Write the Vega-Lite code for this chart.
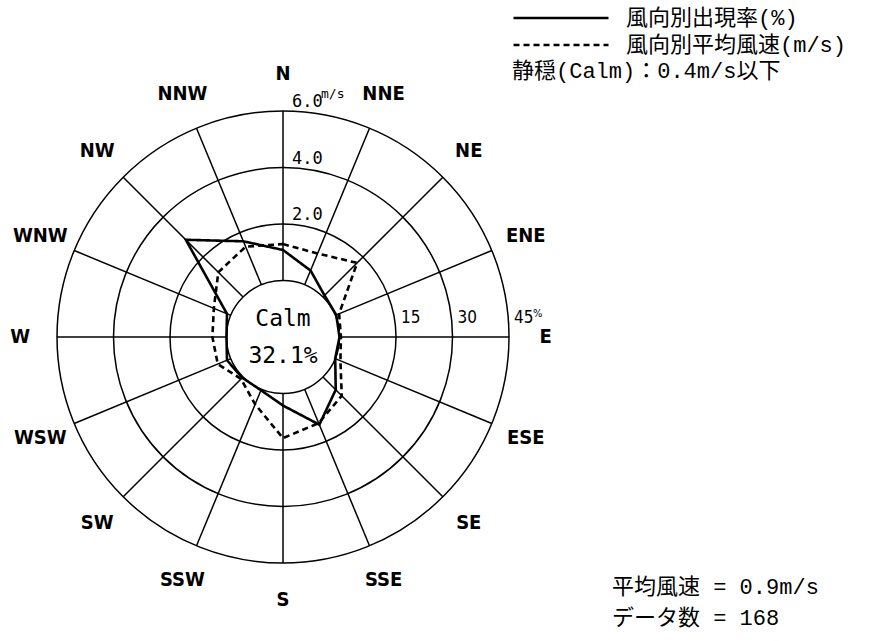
{
  "$schema": "https://vega.github.io/schema/vega-lite/v6.json",
  "width": 877,
  "height": 641,
  "autosize": {"type": "none"},
  "padding": 0,
  "background": "white",
  "config": {"view": {"stroke": null}},
  "datasets": {
    "wind": [
      {"dir": "N", "deg": 0, "pct": 8.1, "speed": 1.29},
      {"dir": "NNE", "deg": 22.5, "pct": 4.1, "speed": 1.2},
      {"dir": "NE", "deg": 45, "pct": 0.6, "speed": 1.71},
      {"dir": "ENE", "deg": 67.5, "pct": 0.3, "speed": 0.15},
      {"dir": "E", "deg": 90, "pct": 0, "speed": 0.05},
      {"dir": "ESE", "deg": 112.5, "pct": 0, "speed": 0.2},
      {"dir": "SE", "deg": 135, "pct": 4.8, "speed": 0.94},
      {"dir": "SSE", "deg": 157.5, "pct": 10.2, "speed": 1.3},
      {"dir": "S", "deg": 180, "pct": 3.2, "speed": 1.58},
      {"dir": "SSW", "deg": 202.5, "pct": 0.3, "speed": 0.58},
      {"dir": "SW", "deg": 225, "pct": 0.3, "speed": 0.1},
      {"dir": "WSW", "deg": 247.5, "pct": 1.1, "speed": 0.5},
      {"dir": "W", "deg": 270, "pct": 0, "speed": 0.5},
      {"dir": "WNW", "deg": 292.5, "pct": 1.1, "speed": 0.65},
      {"dir": "NW", "deg": 315, "pct": 21.5, "speed": 1.24},
      {"dir": "NNW", "deg": 337.5, "pct": 12.5, "speed": 1.46}
    ],
    "rings": [
      {"speed": 0, "pct": 0, "speedLabel": "", "pctLabel": ""},
      {"speed": 2, "pct": 15, "speedLabel": "2.0", "pctLabel": "15"},
      {"speed": 4, "pct": 30, "speedLabel": "4.0", "pctLabel": "30"},
      {"speed": 6, "pct": 45, "speedLabel": "6.0", "pctLabel": "45"}
    ],
    "summary": [
      {"calm": "32.1%", "meanSpeed": "0.9m/s", "count": 168}
    ]
  },
  "layer": [
    {
      "data": {"name": "rings"},
      "transform": [{"calculate": "1 + datum.speed / 2", "as": "r"}],
      "mark": {"type": "arc", "filled": false, "stroke": "black", "strokeWidth": 1.5, "theta": 0, "theta2": 6.2832},
      "encoding": {
        "x": {"datum": 0, "type": "quantitative", "scale": {"domain": [-5.009, 10.513], "nice": false, "zero": false}, "axis": null},
        "y": {"datum": 0, "type": "quantitative", "scale": {"domain": [-5.381, 5.965], "nice": false, "zero": false}, "axis": null},
        "radius": {"field": "r", "type": "quantitative", "stack": null, "scale": {"type": "linear", "domain": [0, 4], "range": [0, 226], "zero": true, "nice": false}, "legend": null}
      }
    },
    {
      "data": {"name": "wind"},
      "transform": [
        {"calculate": "sin(datum.deg * PI / 180)", "as": "sx"},
        {"calculate": "cos(datum.deg * PI / 180)", "as": "sy"},
        {"calculate": "datum.sx", "as": "x1"},
        {"calculate": "datum.sy", "as": "y1"},
        {"calculate": "4 * datum.sx", "as": "x2"},
        {"calculate": "4 * datum.sy", "as": "y2"}
      ],
      "mark": {"type": "rule", "stroke": "black", "strokeWidth": 1.5},
      "encoding": {
        "x": {"field": "x1", "type": "quantitative"},
        "y": {"field": "y1", "type": "quantitative"},
        "x2": {"field": "x2"},
        "y2": {"field": "y2"}
      }
    },
    {
      "data": {"name": "wind"},
      "transform": [
        {"calculate": "4.65 * sin(datum.deg * PI / 180)", "as": "lx"},
        {"calculate": "4.65 * cos(datum.deg * PI / 180)", "as": "ly"}
      ],
      "mark": {"type": "text", "font": "DejaVu Sans Condensed", "fontSize": 20, "fontWeight": "bold", "align": "center", "baseline": "middle", "color": "black"},
      "encoding": {
        "x": {"field": "lx", "type": "quantitative"},
        "y": {"field": "ly", "type": "quantitative"},
        "text": {"field": "dir"}
      }
    },
    {
      "data": {"name": "wind"},
      "transform": [
        {"calculate": "1 + datum.pct / 15", "as": "r"},
        {"calculate": "datum.r * sin(datum.deg * PI / 180)", "as": "px"},
        {"calculate": "datum.r * cos(datum.deg * PI / 180)", "as": "py"}
      ],
      "mark": {"type": "line", "interpolate": "linear-closed", "color": "black", "strokeWidth": 2.6},
      "encoding": {
        "x": {"field": "px", "type": "quantitative"},
        "y": {"field": "py", "type": "quantitative"},
        "order": {"field": "deg", "type": "quantitative"},
        "strokeDash": {
          "datum": "風向別出現率(%)",
          "type": "nominal",
          "scale": {"domain": ["風向別出現率(%)", "風向別平均風速(m/s)"], "range": [[1, 0], [6, 4]]},
          "legend": {
            "orient": "none",
            "legendX": 512,
            "legendY": 7,
            "padding": 0,
            "title": "静穏(Calm)：0.4m/s以下",
            "titleOrient": "bottom",
            "titleAnchor": "start",
            "titleFont": "Liberation Mono, Noto Sans CJK JP",
            "titleFontSize": 22,
            "titleFontWeight": "normal",
            "titleColor": "black",
            "titlePadding": 5,
            "titleLimit": 0,
            "titleBaseline": "top",
            "symbolType": "stroke",
            "symbolSize": 9025,
            "symbolStrokeWidth": 2.5,
            "symbolStrokeColor": "black",
            "clipHeight": 22,
            "labelFont": "Liberation Mono, Noto Sans CJK JP",
            "labelFontSize": 22,
            "labelColor": "black",
            "labelOffset": 16,
            "labelLimit": 0,
            "rowPadding": 5
          }
        }
      }
    },
    {
      "data": {"name": "wind"},
      "transform": [
        {"calculate": "1 + datum.speed / 2", "as": "r"},
        {"calculate": "datum.r * sin(datum.deg * PI / 180)", "as": "px"},
        {"calculate": "datum.r * cos(datum.deg * PI / 180)", "as": "py"}
      ],
      "mark": {"type": "line", "interpolate": "linear-closed", "color": "black", "strokeWidth": 2.6},
      "encoding": {
        "x": {"field": "px", "type": "quantitative"},
        "y": {"field": "py", "type": "quantitative"},
        "order": {"field": "deg", "type": "quantitative"},
        "strokeDash": {"datum": "風向別平均風速(m/s)", "type": "nominal"}
      }
    },
    {
      "data": {"name": "rings"},
      "transform": [{"filter": "datum.speed > 0"}, {"calculate": "1 + datum.speed / 2", "as": "r"}],
      "mark": {"type": "text", "font": "DejaVu Sans Mono", "fontSize": 17, "align": "left", "baseline": "alphabetic", "dx": 9, "dy": -4, "color": "black"},
      "encoding": {
        "x": {"datum": 0, "type": "quantitative"},
        "y": {"field": "r", "type": "quantitative"},
        "text": {"field": "speedLabel"}
      }
    },
    {
      "data": {"name": "rings"},
      "transform": [{"filter": "datum.speed == 6"}, {"calculate": "1 + datum.speed / 2", "as": "r"}],
      "mark": {"type": "text", "font": "DejaVu Sans Mono", "fontSize": 13, "align": "left", "baseline": "alphabetic", "dx": 38, "dy": -13, "color": "black", "text": "m/s"},
      "encoding": {
        "x": {"datum": 0, "type": "quantitative"},
        "y": {"field": "r", "type": "quantitative"}
      }
    },
    {
      "data": {"name": "rings"},
      "transform": [{"filter": "datum.pct > 0"}, {"calculate": "1 + datum.pct / 15", "as": "r"}],
      "mark": {"type": "text", "font": "DejaVu Sans Condensed", "fontSize": 17, "align": "left", "baseline": "alphabetic", "dx": 5, "dy": -14, "color": "black"},
      "encoding": {
        "x": {"field": "r", "type": "quantitative"},
        "y": {"datum": 0, "type": "quantitative"},
        "text": {"field": "pctLabel"}
      }
    },
    {
      "data": {"name": "rings"},
      "transform": [{"filter": "datum.pct == 45"}, {"calculate": "1 + datum.pct / 15", "as": "r"}],
      "mark": {"type": "text", "font": "DejaVu Sans Condensed", "fontSize": 11, "align": "left", "baseline": "alphabetic", "dx": 24, "dy": -20, "color": "black", "text": "%"},
      "encoding": {
        "x": {"field": "r", "type": "quantitative"},
        "y": {"datum": 0, "type": "quantitative"}
      }
    },
    {
      "data": {"name": "summary"},
      "mark": {"type": "text", "font": "DejaVu Sans Mono", "fontSize": 23, "align": "center", "baseline": "middle", "dy": -18, "color": "black", "text": "Calm"},
      "encoding": {
        "x": {"datum": 0, "type": "quantitative"},
        "y": {"datum": 0, "type": "quantitative"}
      }
    },
    {
      "data": {"name": "summary"},
      "mark": {"type": "text", "font": "DejaVu Sans Mono", "fontSize": 23, "align": "center", "baseline": "middle", "dy": 19, "color": "black"},
      "encoding": {
        "x": {"datum": 0, "type": "quantitative"},
        "y": {"datum": 0, "type": "quantitative"},
        "text": {"field": "calm"}
      }
    },
    {
      "data": {"name": "summary"},
      "transform": [
        {"calculate": "['平均風速 = ' + datum.meanSpeed, 'データ数 = ' + datum.count]", "as": "lines"}
      ],
      "mark": {"type": "text", "font": "Liberation Mono, Noto Sans CJK JP", "fontSize": 22, "align": "left", "baseline": "middle", "lineHeight": 31, "color": "black"},
      "encoding": {
        "x": {"datum": 5.823, "type": "quantitative"},
        "y": {"datum": -4.425, "type": "quantitative"},
        "text": {"field": "lines"}
      }
    }
  ]
}
